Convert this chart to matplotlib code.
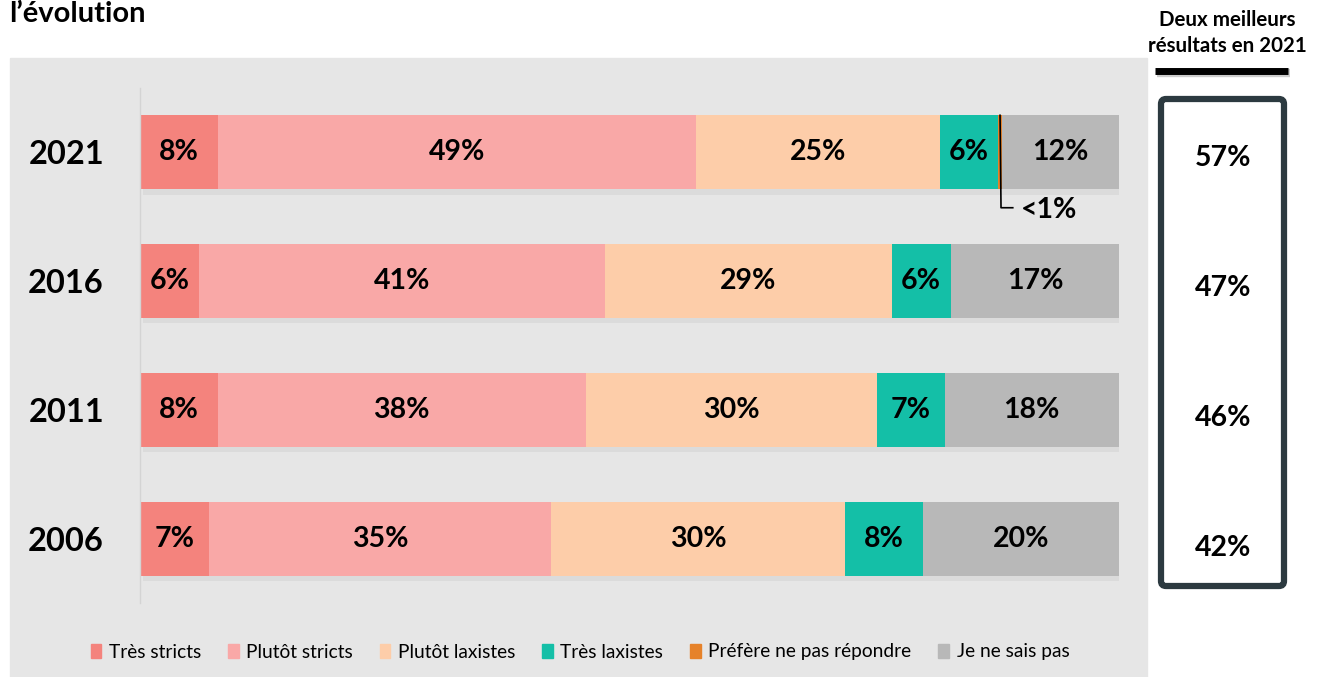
import matplotlib.pyplot as plt
import matplotlib.patches as mpatches
from matplotlib.patches import FancyBboxPatch, Rectangle
import numpy as np

plt.rcParams['font.family'] = ['Lato', 'DejaVu Sans']

# --- Data ---
years = ['2021', '2016', '2011', '2006']
categories = ['Très stricts', 'Plutôt stricts', 'Plutôt laxistes',
              'Très laxistes', 'Préfère ne pas répondre', 'Je ne sais pas']
values = {
    'Très stricts':            [8, 6, 8, 7],
    'Plutôt stricts':          [49, 41, 38, 35],
    'Plutôt laxistes':         [25, 29, 30, 30],
    'Très laxistes':           [6, 6, 7, 8],
    'Préfère ne pas répondre': [0.4, 0, 0, 0],
    'Je ne sais pas':          [12, 17, 18, 20],
}
labels = {
    'Très stricts':            ['8%', '6%', '8%', '7%'],
    'Plutôt stricts':          ['49%', '41%', '38%', '35%'],
    'Plutôt laxistes':         ['25%', '29%', '30%', '30%'],
    'Très laxistes':           ['6%', '6%', '7%', '8%'],
    'Préfère ne pas répondre': ['', '', '', ''],
    'Je ne sais pas':          ['12%', '17%', '18%', '20%'],
}
top_two = ['57%', '47%', '46%', '42%']

colors = {
    'Très stricts': '#F4837D',
    'Plutôt stricts': '#F9A8A7',
    'Plutôt laxistes': '#FDCDA9',
    'Très laxistes': '#14BFA7',
    'Préfère ne pas répondre': '#E6822A',
    'Je ne sais pas': '#B8B8B8',
}

W, H = 1325, 677
fig = plt.figure(figsize=(W / 100, H / 100), dpi=100)
fig.patch.set_facecolor('white')

# background axes in pixel coordinates
bg = fig.add_axes([0, 0, 1, 1])
bg.set_xlim(0, W)
bg.set_ylim(H, 0)
bg.axis('off')
bg.add_patch(Rectangle((10, 58), 1137, 640, color='#E6E6E6', zorder=0))

bg.text(9, 14, 'l’évolution', fontsize=21, fontweight='bold', va='center', ha='left')

# right hand box
bg.text(1227, 33, 'Deux meilleurs\nrésultats en 2021', fontsize=14.8, fontweight='bold',
        ha='center', va='center', linespacing=1.4)
bg.plot([1157, 1290], [73, 73], color='#9A9A9A', lw=6, alpha=0.5, solid_capstyle='butt')
bg.plot([1155, 1288], [71, 71], color='black', lw=5, solid_capstyle='butt')
bg.add_patch(FancyBboxPatch((1161, 99), 123, 487, boxstyle='round,pad=0,rounding_size=5',
                            fc='white', ec='#2C3A40', lw=4.5))
box_y = [158, 288, 418, 548]
for yy, t in zip(box_y, top_two):
    bg.text(1223, yy, t, fontsize=20.5, fontweight='bold', ha='center', va='center')

# main chart
ax = fig.add_axes([140 / W, (H - 603) / H, 979 / W, 515 / H])
ax.patch.set_alpha(0)
ypos = np.arange(len(years))
rows = np.array([values[c] for c in categories], dtype=float)
shares = rows / rows.sum(axis=0) * 100
left = np.zeros(len(years))
bar_h = 0.576
for i, c in enumerate(categories):
    w = shares[i]
    # soft shadow
    ax.barh(ypos + 0.04, w, left=left + 0.35, height=bar_h, color='#C8C8C8', alpha=0.35,
            zorder=1, lw=0)
    left += w
left = np.zeros(len(years))
for i, c in enumerate(categories):
    w = shares[i]
    ax.barh(ypos, w, left=left, height=bar_h, color=colors[c], zorder=2, lw=0)
    for j in range(len(years)):
        if labels[c][j]:
            ax.text(left[j] + w[j] / 2, ypos[j], labels[c][j], fontsize=20.5, fontweight='bold',
                    ha='center', va='center', zorder=3)
    left += w

ax.set_xlim(0, 100)
ax.set_ylim(3.5, -0.5)
ax.set_xticks([])
ax.set_yticks(ypos)
ax.set_yticklabels(years, fontsize=23.5, fontweight='bold')
ax.tick_params(axis='y', length=0, pad=26)
for s in ['top', 'right', 'bottom']:
    ax.spines[s].set_visible(False)
ax.spines['left'].set_color('#D4D4D4')
ax.spines['left'].set_linewidth(1)

# <1% callout
x_nr = shares[:4, 0].sum() + shares[4, 0] / 2
ax.plot([x_nr, x_nr + 0.1, x_nr + 1.3], [ypos[0] - bar_h / 2, 0.43, 0.43],
        color='black', lw=1.2, zorder=4)
ax.text(x_nr + 2.1, 0.45, '<1%', fontsize=20.5, fontweight='bold', ha='left', va='center')

# legend
handles = [mpatches.Patch(color=colors[c], label=c) for c in categories]
fig.legend(handles=handles, loc='center', bbox_to_anchor=(580 / W, 1 - 652 / H), ncol=6,
           frameon=False, fontsize=13.8, handlelength=0.55, handleheight=0.7, handletextpad=0.4,
           columnspacing=1.4)

fig.savefig('out.png', dpi=100)
